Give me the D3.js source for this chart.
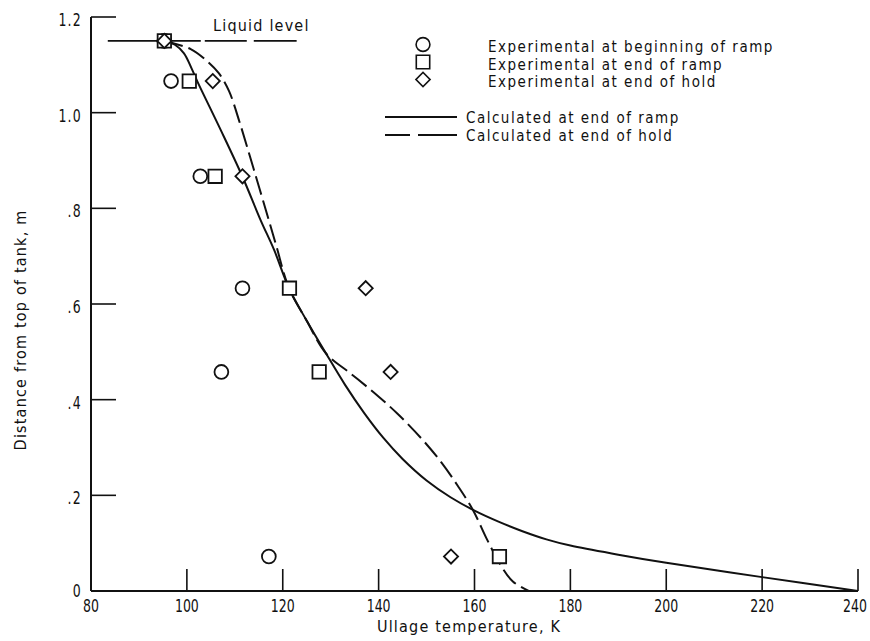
<!DOCTYPE html>
<html>
<head>
<meta charset="utf-8">
<script src="https://cdn.jsdelivr.net/npm/d3@7"></script>
<style>
    body { margin: 0; background: #fff; }
    text { font-family: "DejaVu Sans Condensed", "DejaVu Sans", sans-serif; fill: #111; }
    .lbl { font-size: 16px; letter-spacing: 1.2px; }
    .leg { font-size: 15px; letter-spacing: 1.5px; }
</style>
</head>
<body>
<div id="chart"></div>
<script>
// Sensor heights (distance from top of tank, m)
var heights = [1.15, 1.066, 0.867, 0.633, 0.458, 0.072];

// Measured ullage temperatures (K) at each height
var tempBeginRamp = [95.3, 96.7, 102.8, 111.6, 107.2, 117.1];
var tempEndRamp = [95.3, 100.5, 105.9, 121.4, 127.6, 165.2];
var tempEndHold = [95.3, 105.4, 111.6, 137.3, 142.5, 155.1];

// Calculated profiles: [temperature, distance]
var calcEndRamp = [
    [95.3, 1.15], [97.5, 1.142], [99.4, 1.124], [101, 1.092], [102.2, 1.065],
    [107.1, 0.963], [111.6, 0.866], [115.4, 0.775], [118.2, 0.713], [121.3, 0.633],
    [125, 0.565], [129, 0.497], [133, 0.431], [137, 0.372], [141, 0.320],
    [145, 0.276], [150, 0.231], [155, 0.196], [160, 0.168], [165, 0.145],
    [170, 0.125], [175, 0.108], [180, 0.095], [190, 0.076], [200, 0.059],
    [220, 0.029], [240, 0]
];
var calcEndHold = [
    [95.3, 1.15], [100.8, 1.133], [104.3, 1.107], [106.7, 1.082], [108.8, 1.045],
    [111, 0.98], [114, 0.88], [117.1, 0.775], [118.7, 0.72], [121.3, 0.633],
    [125, 0.565], [129, 0.497], [134, 0.456], [139, 0.415], [144, 0.37],
    [149, 0.318], [153, 0.27], [156.5, 0.22], [159.7, 0.169], [162.5, 0.11],
    [165.4, 0.055], [168, 0.02], [171.3, 0]
];

var liquidLevel = 1.15,
    liquidLineExtent = [83.5, 122.9];

// Axis ticks
var xTicks = [80, 100, 120, 140, 160, 180, 200, 220, 240];
var yTicks = [0, 0.2, 0.4, 0.6, 0.8, 1.0, 1.2];
var yTickLabels = ["0", ".2", ".4", ".6", ".8", "1.0", "1.2"];

var legendLabels = [
    "Experimental at beginning of ramp",
    "Experimental at end of ramp",
    "Experimental at end of hold",
    "Calculated at end of ramp",
    "Calculated at end of hold"
];

var width = 870,
    height = 641,
    ink = "#111";

var svg = d3.select("#chart")
    .append("svg")
    .attr("width", width)
    .attr("height", height);

var x = d3.scaleLinear().domain([80, 240]).range([91, 858]);
var y = d3.scaleLinear().domain([0, 1.2]).range([591, 17]);

// Axes: only left and bottom lines, ticks point inward
svg.append("line")
    .attr("x1", x(80)).attr("x2", x(240))
    .attr("y1", y(0)).attr("y2", y(0))
    .style("stroke", ink).style("stroke-width", "2px");

svg.append("line")
    .attr("x1", x(80)).attr("x2", x(80))
    .attr("y1", y(0)).attr("y2", y(1.2))
    .style("stroke", ink).style("stroke-width", "2px");

// tick numbers are tall and narrow, so squeeze them horizontally
xTicks.forEach(function (t) {
    if (t > 80) {
        svg.append("line")
            .attr("x1", x(t)).attr("x2", x(t))
            .attr("y1", y(0)).attr("y2", y(0) - 22)
            .style("stroke", ink).style("stroke-width", "1.6px");
    }
    svg.append("text")
        .attr("transform", "translate(" + (x(t) - (t == 240 ? 3 : 0)) + ",612) scale(0.82,1)")
        .attr("text-anchor", "middle")
        .style("font-size", "17px")
        .text(t);
});

yTicks.forEach(function (t, i) {
    if (t > 0) {
        svg.append("line")
            .attr("x1", x(80)).attr("x2", x(80) + 25)
            .attr("y1", y(t)).attr("y2", y(t))
            .style("stroke", ink).style("stroke-width", "1.6px");
    }
    svg.append("text")
        .attr("transform", "translate(82," + (y(t) + (t == 0 ? 6 : 9)) + ") scale(0.82,1)")
        .attr("text-anchor", "end")
        .style("font-size", "17px")
        .style("letter-spacing", "1.5px")
        .text(yTickLabels[i]);
});

// Axis titles
svg.append("text")
    .attr("class", "lbl")
    .attr("x", 469)
    .attr("y", 632)
    .attr("text-anchor", "middle")
    .text("Ullage temperature,  K");

svg.append("text")
    .attr("class", "lbl")
    .attr("transform", "translate(26," + 330 + ") rotate(-90)")
    .attr("text-anchor", "middle")
    .text("Distance from top of tank,  m");

// Liquid level line and label
svg.append("line")
    .attr("x1", x(liquidLineExtent[0])).attr("x2", x(liquidLineExtent[1]))
    .attr("y1", y(liquidLevel)).attr("y2", y(liquidLevel))
    .style("stroke", ink).style("stroke-width", "1.6px")
    .style("stroke-dasharray", "93,4,42,7,46");

svg.append("text")
    .attr("class", "lbl")
    .attr("x", 213)
    .attr("y", 31)
    .text("Liquid level");

// Calculated curves
var line = d3.line()
    .x(function (d) { return x(d[0]); })
    .y(function (d) { return y(d[1]); })
    .curve(d3.curveCatmullRom.alpha(0.5));

svg.append("path")
    .datum(calcEndRamp)
    .attr("d", line)
    .style("fill", "none")
    .style("stroke", ink)
    .style("stroke-width", "2px");

svg.append("path")
    .datum(calcEndHold)
    .attr("d", line)
    .style("fill", "none")
    .style("stroke", ink)
    .style("stroke-width", "2px")
    .style("stroke-dasharray", "19,6");

// Marker shapes
var circleSym = d3.symbol().type(d3.symbolCircle).size(150),
    squareSym = d3.symbol().type(d3.symbolSquare).size(180),
    diamondSym = d3.symbol().type(d3.symbolSquare).size(100);

function drawMarkers(temps, sym, rotate) {
    svg.append("g")
        .selectAll("path")
        .data(temps)
        .join("path")
        .attr("d", sym)
        .attr("transform", function (d, i) {
            return "translate(" + x(d) + "," + y(heights[i]) + ")" + (rotate ? " rotate(45)" : "");
        })
        .style("fill", "#fff")
        .style("stroke", ink)
        .style("stroke-width", "1.8px");
}

drawMarkers(tempBeginRamp, circleSym, false);
drawMarkers(tempEndRamp, squareSym, false);
drawMarkers(tempEndHold, diamondSym, true);

// Legend
var legendRowY = [44.5, 62, 79.5];
[circleSym, squareSym, diamondSym].forEach(function (sym, i) {
    svg.append("path")
        .attr("d", sym)
        .attr("transform", "translate(423," + legendRowY[i] + ")" + (i == 2 ? " rotate(45)" : ""))
        .style("fill", "#fff")
        .style("stroke", ink)
        .style("stroke-width", "1.6px");

    svg.append("text")
        .attr("class", "leg")
        .attr("x", 488)
        .attr("y", legendRowY[i] + 7.5)
        .text(legendLabels[i]);
});

var legendLineY = [117, 135];
legendLineY.forEach(function (ly, i) {
    svg.append("line")
        .attr("x1", 385).attr("x2", 457)
        .attr("y1", ly).attr("y2", ly)
        .style("stroke", ink)
        .style("stroke-width", "2px")
        .style("stroke-dasharray", i == 1 ? "25,8,39" : null);

    svg.append("text")
        .attr("class", "leg")
        .attr("x", 466)
        .attr("y", ly + 6)
        .text(legendLabels[3 + i]);
});
</script>
</body>
</html>
